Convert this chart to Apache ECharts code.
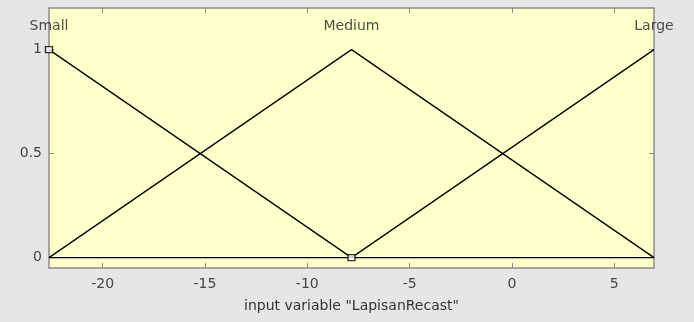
<!DOCTYPE html>
<html><head><meta charset="utf-8">
<script src="https://cdn.jsdelivr.net/npm/echarts@6/dist/echarts.min.js"></script>
<style>html,body{margin:0;padding:0;background:#e6e6e6;}#c{width:694px;height:322px;}</style>
</head><body><div id="c"></div>
<script>
const xRange = [-22.62, 6.94];
const yRange = [-0.05, 1.2];
const xTicks = [-20, -15, -10, -5, 0, 5];
const yTicks = [0, 0.5, 1];
const mfNames = ['Small', 'Medium', 'Large'];
const mfX = [-22.62, -7.84, 6.94];
const smallY = [1, 0, 0];
const mediumY = [0, 1, 0];
const largeY = [0, 0, 1];
const labelY = 1.11;
const markerPts = [[-22.62, 1], [-7.84, 0]];
const xName = 'input variable "LapisanRecast"';

const font = 'DejaVu Sans';
const txt = '#454545';
const frame = '#8c8c8c';
const pair = ys => mfX.map((x, i) => [x, ys[i]]);
const lineSeries = (name, ys) => ({
  type: 'line', name, data: pair(ys), showSymbol: false, symbol: 'none',
  lineStyle: {color: '#000', width: 1.3}, animation: false, z: 3, xAxisIndex: 0, yAxisIndex: 0
});
const tick = vals => ({show: true, inside: true, length: 5, lineStyle: {color: frame}, customValues: vals});

const chart = echarts.init(document.getElementById('c'), null, {renderer: 'canvas'});
chart.setOption({
  backgroundColor: '#e6e6e6',
  animation: false,
  grid: {left: 49, right: 40, top: 8, bottom: 54, show: true, backgroundColor: '#ffffcc', borderColor: frame, borderWidth: 1.5},
  xAxis: [{
    type: 'value', min: xRange[0], max: xRange[1], position: 'bottom',
    name: xName, nameLocation: 'middle', nameGap: 31,
    nameTextStyle: {color: '#333', fontFamily: font, fontSize: 14},
    axisLine: {show: false, onZero: false}, splitLine: {show: false},
    axisTick: tick(xTicks),
    axisLabel: {color: txt, fontFamily: font, fontSize: 14, margin: 9, customValues: xTicks}
  }, {
    type: 'value', min: xRange[0], max: xRange[1], position: 'top',
    axisLine: {show: false, onZero: false}, splitLine: {show: false},
    axisTick: tick(xTicks),
    axisLabel: {show: false}
  }],
  yAxis: [{
    type: 'value', min: yRange[0], max: yRange[1], position: 'left',
    axisLine: {show: false, onZero: false}, splitLine: {show: false},
    axisTick: tick(yTicks),
    axisLabel: {color: txt, fontFamily: font, fontSize: 14, margin: 7, customValues: yTicks}
  }, {
    type: 'value', min: yRange[0], max: yRange[1], position: 'right',
    axisLine: {show: false, onZero: false}, splitLine: {show: false},
    axisTick: tick(yTicks),
    axisLabel: {show: false}
  }],
  series: [
    lineSeries('Small', smallY),
    lineSeries('Medium', mediumY),
    lineSeries('Large', largeY),
    {
      type: 'scatter', data: markerPts, symbol: 'rect', symbolSize: [7, 6],
      itemStyle: {color: '#fff', borderColor: '#000', borderWidth: 1.3}, z: 4, clip: false
    },
    {
      type: 'scatter', data: mfX.map((x, i) => ({value: [x, labelY], name: mfNames[i]})),
      symbolSize: 0, clip: false, z: 5,
      label: {show: true, position: 'inside', formatter: p => p.name, color: '#222', fontFamily: font, fontSize: 14}
    }
  ]
});
</script></body></html>
